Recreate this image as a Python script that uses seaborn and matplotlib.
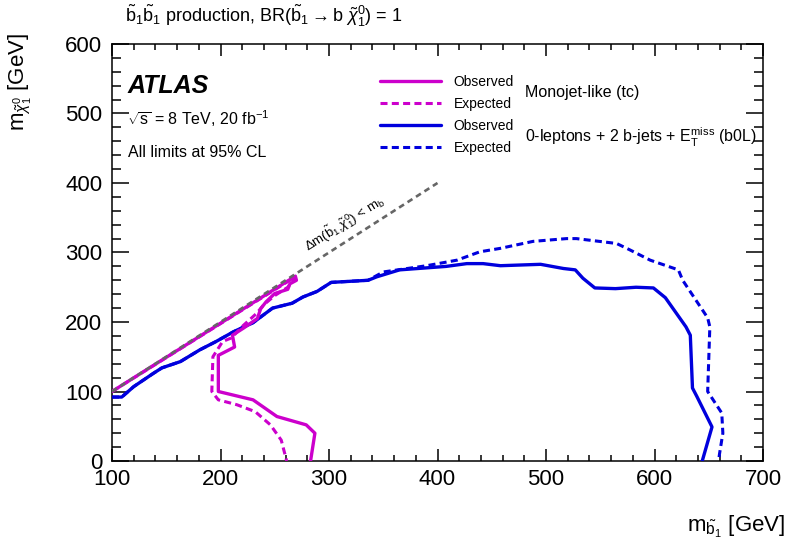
import matplotlib
matplotlib.use("Agg")
import matplotlib.pyplot as plt
import seaborn as sns
import pandas as pd

# ---------------- data ----------------
tc_obs_x = [100, 269, 270, 264, 262, 250, 242, 237, 234, 221, 211, 213, 198, 198, 230, 252, 279, 287, 283]
tc_obs_y = [100, 266, 260, 255, 247, 241, 229, 219, 205, 191, 181, 164, 152, 100, 88, 64, 52, 40, 0]

tc_exp_x = [100, 269, 262, 250, 240, 233, 221, 210, 202, 193, 192, 198, 215, 232, 246, 256, 261]
tc_exp_y = [100, 265, 250, 238, 225, 212, 195, 177, 172, 150, 100, 88, 81, 71, 52, 30, 0]

b0l_obs_x = [100, 109, 120, 138, 146, 163, 181, 196, 212, 230, 248, 266, 276, 289, 302, 336, 344, 365,
             408, 427, 442, 458, 495, 516, 527, 534, 545, 564, 583, 599, 610, 629, 633, 635, 639, 653, 644]
b0l_obs_y = [92, 92, 107, 126, 134, 143, 160, 172, 186, 199, 220, 227, 236, 244, 257, 260, 265, 275,
             280, 284, 284, 281, 283, 277, 275, 263, 249, 248, 250, 249, 235, 193, 181, 105, 93, 49, 0]

b0l_exp_x = [100, 109, 120, 138, 146, 163, 181, 196, 212, 230, 248, 266, 276, 289, 302, 336, 350, 390,
             418, 439, 458, 488, 519, 528, 565, 577, 596, 622, 626, 649, 651, 649, 662, 663, 660, 659]
b0l_exp_y = [92, 92, 107, 126, 134, 143, 160, 172, 186, 199, 220, 227, 236, 244, 257, 260, 272, 281,
             289, 301, 306, 316, 320, 320, 313, 304, 289, 275, 260, 206, 193, 100, 69, 40, 11, 0]

diag_x = [100, 400]
diag_y = [100, 400]

x_ticks = [100, 200, 300, 400, 500, 600, 700]
y_ticks = [0, 100, 200, 300, 400, 500, 600]

# ---------------- style ----------------
sns.set_theme(style="white")
plt.rcParams["font.family"] = ["Liberation Sans", "DejaVu Sans"]
plt.rcParams["mathtext.fontset"] = "custom"
plt.rcParams["mathtext.rm"] = "Liberation Sans"
plt.rcParams["mathtext.it"] = "Liberation Sans:italic"
plt.rcParams["mathtext.bf"] = "Liberation Sans:bold"
plt.rcParams["axes.linewidth"] = 1.1
plt.rcParams["text.color"] = "black"
plt.rcParams["axes.labelcolor"] = "black"
plt.rcParams["xtick.color"] = "black"
plt.rcParams["ytick.color"] = "black"

MAG = "#cc00cc"
BLU = "#0000dd"
GRY = "#666666"

fig = plt.figure(figsize=(7.86, 5.53), dpi=100)
ax = fig.add_axes([112/786, 1-461/553, 651/786, 417/553])

def draw(xs, ys, color, lw, dashed, label=None, z=2):
    df = pd.DataFrame({"x": xs, "y": ys})
    sns.lineplot(data=df, x="x", y="y", sort=False, estimator=None, color=color,
                 linewidth=lw, ax=ax, label=label, zorder=z)
    ln = ax.lines[-1]
    if dashed:
        ln.set_dashes(dashed)
    return ln

h_be = draw(b0l_exp_x, b0l_exp_y, BLU, 2.2, [2.3, 1.4], "Expected", 2)
h_bo = draw(b0l_obs_x, b0l_obs_y, BLU, 2.4, None, "Observed", 3)
h_te = draw(tc_exp_x, tc_exp_y, MAG, 2.2, [2.3, 1.4], "Expected", 4)
h_to = draw(tc_obs_x, tc_obs_y, MAG, 2.4, None, "Observed", 5)
draw(diag_x, diag_y, GRY, 1.9, [2.2, 1.6], None, 6)

ax.set_xlim(100, 700)
ax.set_ylim(0, 600)
ax.set_xticks(x_ticks)
ax.set_yticks(y_ticks)
ax.set_xticklabels([str(v) for v in x_ticks])
ax.set_yticklabels([str(v) for v in y_ticks])
ax.xaxis.set_minor_locator(matplotlib.ticker.MultipleLocator(20))
ax.yaxis.set_minor_locator(matplotlib.ticker.MultipleLocator(20))
ax.tick_params(axis="both", which="both", direction="in", top=True, right=True,
               bottom=True, left=True, color="black", width=1.1, labelsize=16,
               labelcolor="black")
ax.tick_params(axis="x", which="major", length=8.6, pad=6)
ax.tick_params(axis="x", which="minor", length=4.3)
ax.tick_params(axis="y", which="major", length=12.5, pad=7)
ax.tick_params(axis="y", which="minor", length=6.2)
for s in ax.spines.values():
    s.set_color("black")
ax.set_xlabel("")
ax.set_ylabel("")

# legend
leg = ax.legend([h_to, h_te, h_bo, h_be], ["Observed", "Expected", "Observed", "Expected"],
                loc="upper left", bbox_to_anchor=((380-112)/651, (461-75)/417),
                frameon=False, fontsize=10, handlelength=4.4, handletextpad=0.9,
                labelspacing=0.58, borderpad=0, borderaxespad=0)
for t in leg.get_texts():
    t.set_color("black")

fig.text(525/786, 1-92/553, "Monojet-like (tc)", fontsize=11.5, ha="left", va="center")
fig.text(525/786, 1-137/553, r"0-leptons + 2 b-jets + E$_{\mathrm{T}}^{\mathrm{miss}}$ (b0L)",
         fontsize=11.5, ha="left", va="center")

# ATLAS labels
fig.text(128/786, 1-93/553, "ATLAS", fontsize=18, fontweight="bold", fontstyle="italic",
         ha="left", va="baseline")
fig.text(127/786, 1-125/553, r"$\sqrt{\mathrm{s}}$ = 8 TeV, 20 fb$^{-1}$", fontsize=11.5,
         ha="left", va="baseline")
fig.text(128/786, 1-157/553, "All limits at 95% CL", fontsize=11.5, ha="left", va="baseline")

# title
fig.text(125/786, 1-22/553,
         r"$\tilde{\mathrm{b}}_{1}\tilde{\mathrm{b}}_{1}$ production, BR($\tilde{\mathrm{b}}_{1}\rightarrow\mathrm{b}\ \tilde{\chi}^{0}_{1}$) = 1",
         fontsize=13, ha="left", va="baseline")

# diagonal label
ax.text(281, 301, r"$\Delta$m($\tilde{\mathrm{b}}_{1}$,$\tilde{\chi}^{0}_{1}$) < m$_{\mathrm{b}}$",
        fontsize=9.5, rotation=32, rotation_mode="anchor", ha="left", va="baseline")

# axis labels
fig.text(785/786, 1-532/553, r"m$_{\tilde{\mathrm{b}}_{1}}$ [GeV]", fontsize=16,
         ha="right", va="baseline")
fig.text(24/786, 1-33/553, r"m$_{\tilde{\chi}^{0}_{1}}$ [GeV]", fontsize=16, rotation=90,
         rotation_mode="anchor", ha="right", va="baseline")

fig.savefig("out.png", dpi=100)
